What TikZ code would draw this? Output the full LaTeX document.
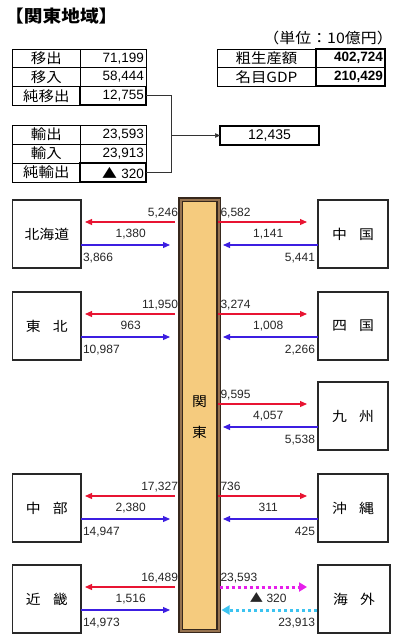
\documentclass[tikz,border=0pt]{standalone}
\usepackage{fontspec}
\setmainfont{Liberation Sans}
\newfontfamily\jp{Noto Sans CJK JP}[FakeStretch=1.1]
\usetikzlibrary{arrows.meta,calc}
\definecolor{redc}{RGB}{232,20,50}
\definecolor{bluec}{RGB}{60,30,225}
\definecolor{magc}{RGB}{230,30,235}
\definecolor{cyanc}{RGB}{60,195,240}
\definecolor{barfill}{RGB}{245,203,126}
\definecolor{bard}{RGB}{55,40,28}
\definecolor{barmid}{RGB}{150,115,80}
\definecolor{boxc}{RGB}{40,40,40}
\newcommand\LRow[4]{%
 \draw[redarr] ($(bar.west |- #1.east)+(-5.5pt,12pt)$) -- ($(#1.east)+(4pt,12pt)$);
 \draw[bluearr] ($(#1.east)+(0pt,-11pt)$) -- ($(bar.west |- #1.east)+(-10.5pt,-11pt)$);
 \node[lbl,anchor=east] (#1r) at ($(bar.west |- #1.east)+(-2.5pt,22pt)$) {#2};
 \node[lbl] (#1m) at ($(#1.east)!0.5!(bar.west |- #1.east)+(0pt,1pt)$) {#3};
 \node[lbl,anchor=west] (#1b) at ($(#1.east)+(2pt,-23pt)$) {#4};}
\newcommand\RRow[4]{%
 \draw[redarr] ($(bar.east |- #1.west)+(-0.5pt,12pt)$) -- ($(#1.west)+(-11pt,12pt)$);
 \draw[bluearr] ($(#1.west)+(0pt,-11pt)$) -- ($(bar.east |- #1.west)+(4.5pt,-11pt)$);
 \node[lbl,anchor=west] (#1r) at ($(bar.east |- #1.west)+(2pt,22pt)$) {#2};
 \node[lbl] (#1m) at ($(#1.west)!0.5!(bar.east |- #1.west)+(0pt,1pt)$) {#3};
 \node[lbl,anchor=east] (#1b) at ($(#1.west)+(-3pt,-23pt)$) {#4};}
\begin{document}
\begin{tikzpicture}[x=1pt,y=-1pt,
  box/.style={draw=boxc, line width=1.2pt, minimum width=68.3pt, minimum height=68pt, anchor=north west, inner sep=0pt, outer sep=0pt, font=\jp\fontsize{13.5}{16}\selectfont},
  rbox/.style={box, minimum width=70pt},
  cell/.style={draw=black, line width=0.8pt, anchor=north west, inner sep=0pt, outer sep=0pt, font=\jp\fontsize{14}{16}\selectfont},
  numcell/.style={draw=black, line width=0.8pt, anchor=north west, inner ysep=0pt, inner xsep=2pt, outer sep=0pt, text width=#1, align=right, font=\fontsize{13.5}{16}\selectfont},
  lbl/.style={inner sep=0pt, outer sep=0pt, text height=8.6pt, text depth=0pt, font=\fontsize{12}{14}\selectfont, text=black!85},
  redarr/.style={draw=redc, line width=1.1pt, -{Triangle[length=7pt,width=6pt]}},
  bluearr/.style={draw=bluec, line width=1.1pt, -{Triangle[length=7pt,width=6pt]}},
  conn/.style={draw=black!80, line width=0.7pt}
]
\useasboundingbox (0,0) rectangle (395,635);
% title and unit
\node[anchor=west, inner sep=0pt, font=\jp\bfseries\fontsize{17}{19}\selectfont] (title) at (5,16) {【関東地域】};
\node[anchor=east, inner sep=0pt, font=\jp\fontsize{14.5}{16}\selectfont] (unit) at (393,38) {（単位：10億円）};
% table 1
\node[cell, minimum width=67.3pt, minimum height=18.7pt] (t1a) at (12.7,49) {移出};
\node[numcell=62pt, minimum height=18.7pt] (t1av) at (80,49) {71,199};
\node[cell, minimum width=67.3pt, minimum height=18.7pt] (t1b) at (12.7,67.7) {移入};
\node[numcell=62pt, minimum height=18.7pt] (t1bv) at (80,67.7) {58,444};
\node[cell, minimum width=67.3pt, minimum height=18.7pt] (t1c) at (12.7,86.4) {純移出};
\node[numcell=62pt, minimum height=18.7pt, line width=1.8pt] (t1cv) at (80,86.4) {12,755};
% table 2
\node[cell, minimum width=67.3pt, minimum height=19pt] (t2a) at (12.7,125) {輸出};
\node[numcell=62pt, minimum height=19pt] (t2av) at (80,125) {23,593};
\node[cell, minimum width=67.3pt, minimum height=19pt] (t2b) at (12.7,144) {輸入};
\node[numcell=62pt, minimum height=19pt] (t2bv) at (80,144) {23,913};
\node[cell, minimum width=67.3pt, minimum height=19pt] (t2c) at (12.7,163) {純輸出};
\node[numcell=62pt, minimum height=19pt, line width=1.8pt] (t2cv) at (80,163) {{\jp ▲}\ 320};
% right table
\node[cell, minimum width=99pt, minimum height=18.5pt] (g1) at (217,49) {粗生産額};
\node[numcell=65pt, minimum height=18.5pt, line width=1.6pt, font=\bfseries\fontsize{13.5}{16}\selectfont] (g1v) at (316,49) {402,724};
\node[cell, minimum width=99pt, minimum height=18.5pt] (g2) at (217,67.5) {名目GDP};
\node[numcell=65pt, minimum height=18.5pt, line width=1.6pt, font=\bfseries\fontsize{13.5}{16}\selectfont] (g2v) at (316,67.5) {210,429};
% net box and connector
\node[draw=black, line width=2pt, minimum width=99pt, minimum height=19pt, anchor=north west, inner sep=0pt, outer sep=0pt, font=\fontsize{14}{16}\selectfont] (net) at (220,126) {12,435};
\coordinate (j) at (171,135.5);
\draw[conn] (t1cv.east) -- (t1cv.east -| j) -- (t2cv.east -| j) -- (t2cv.east);
\draw[conn, -{Triangle[length=5pt,width=4.5pt]}] (j) -- (net.west);
% central bar
\node[draw=bard, line width=1.2pt, double=barmid, double distance=2pt, fill=barfill, minimum width=38pt, minimum height=431.5pt, anchor=north west, inner sep=0pt, outer sep=0pt] (bar) at (180.5,199.5) {};
\node[inner sep=0pt, font=\jp\fontsize{13.5}{15}\selectfont] (kan) at (199.5,402) {関};
\node[inner sep=0pt, font=\jp\fontsize{13.5}{15}\selectfont] (tou) at (199.5,432) {東};
% boxes
\node[box] (hk) at (12.7,200) {北海道};
\node[box] (th) at (12.7,292) {東\hspace{0.9em}北};
\node[box] (cb) at (12.7,474) {中\hspace{0.9em}部};
\node[box] (kk) at (12.7,565) {近\hspace{0.9em}畿};
\node[rbox] (cg) at (318,200) {中\hspace{0.9em}国};
\node[rbox] (sk) at (318,292) {四\hspace{0.9em}国};
\node[rbox] (ks) at (318,382) {九\hspace{0.9em}州};
\node[rbox] (ok) at (318,474) {沖\hspace{0.9em}縄};
\node[rbox, line width=2.5pt, minimum width=72pt] (kg) at (318,565) {海\hspace{0.9em}外};
% arrows
\LRow{hk}{5,246}{1,380}{3,866}
\LRow{th}{11,950}{963}{10,987}
\LRow{cb}{17,327}{2,380}{14,947}
\LRow{kk}{16,489}{1,516}{14,973}
\RRow{cg}{6,582}{1,141}{5,441}
\RRow{sk}{3,274}{1,008}{2,266}
\RRow{ks}{9,595}{4,057}{5,538}
\RRow{ok}{736}{311}{425}
% overseas
\draw[draw=magc, line width=3pt, dash pattern=on 3pt off 3pt, -{Triangle[length=8pt,width=9pt]}] ($(bar.east |- kg.west)+(1pt,12pt)$) -- ($(kg.west)+(-11pt,12pt)$);
\draw[draw=cyanc, line width=3pt, dash pattern=on 3pt off 3pt, -{Triangle[length=8pt,width=9pt]}] ($(kg.west)+(-1pt,-11pt)$) -- ($(bar.east |- kg.west)+(3pt,-11pt)$);
\node[lbl,anchor=west] (kgr) at ($(bar.east |- kg.west)+(2pt,22pt)$) {23,593};
\node[lbl] (kgm) at ($(kg.west)!0.5!(bar.east |- kg.west)+(0pt,1pt)$) {{\jp ▲}\ 320};
\node[lbl,anchor=east] (kgb) at ($(kg.west)+(-3pt,-23pt)$) {23,913};
\end{tikzpicture}
\end{document}
